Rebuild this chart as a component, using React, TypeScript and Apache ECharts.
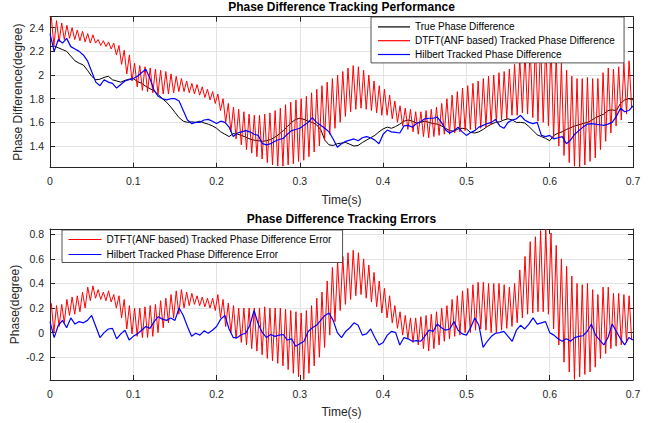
import React, { useEffect, useRef } from "react";
import * as echarts from "echarts";

// ---- sampling grids (seconds) ----
const SAMPLE_STEP = 0.005; // spacing of the smooth/noisy traces
const CYCLE = 0.00625; // one oscillation period of the DTFT trace (160 Hz)

// ---- axis ranges & labels ----
const X_MIN = 0;
const X_MAX = 0.7;
const X_INTERVAL = 0.1;
const TOP_Y_MIN = 1.217;
const TOP_Y_MAX = 2.493;
const BOT_Y_MIN = -0.385;
const BOT_Y_MAX = 0.843;

const TOP_TITLE = "Phase Difference Tracking Performance";
const BOT_TITLE = "Phase Difference Tracking Errors";
const X_NAME = "Time(s)";
const TOP_Y_NAME = "Phase Difference(degree)";
const BOT_Y_NAME = "Phase(degree)";

const NAME_TRUE = "True Phase Difference";
const NAME_DTFT = "DTFT(ANF based) Tracked Phase Difference";
const NAME_HILB = "Hilbert Tracked Phase Difference";
const NAME_DTFT_ERR = "DTFT(ANF based) Tracked Phase Difference Error";
const NAME_HILB_ERR = "Hilbert Tracked Phase Difference Error";

// ---- top panel: true phase difference, every 0.005 s ----
const trueTop = [
  2.24, 2.245, 2.23, 2.215, 2.2, 2.16, 2.12, 2.1, 2.085, 2.04,
  1.99, 1.96, 1.965, 1.98, 1.99, 1.96, 1.95, 1.94, 1.955, 1.965,
  1.97, 1.945, 1.93, 1.905, 1.885, 1.865, 1.835, 1.8, 1.77, 1.73,
  1.685, 1.64, 1.61, 1.6, 1.605, 1.6, 1.61, 1.595, 1.585, 1.57,
  1.55, 1.52, 1.5, 1.48, 1.505, 1.5, 1.49, 1.475, 1.46, 1.45,
  1.445, 1.44, 1.445, 1.455, 1.475, 1.5, 1.53, 1.565, 1.6, 1.625,
  1.635, 1.625, 1.61, 1.6, 1.58, 1.54, 1.45, 1.41, 1.405, 1.42,
  1.425, 1.43, 1.415, 1.4, 1.405, 1.43, 1.45, 1.47, 1.49, 1.52,
  1.545, 1.56, 1.55, 1.565, 1.585, 1.61, 1.62, 1.61, 1.595, 1.6,
  1.61, 1.6, 1.59, 1.585, 1.57, 1.55, 1.53, 1.525, 1.545, 1.55,
  1.545, 1.515, 1.51, 1.52, 1.54, 1.565, 1.585, 1.6, 1.605, 1.62,
  1.63, 1.62, 1.6, 1.6, 1.595, 1.565, 1.53, 1.495, 1.48, 1.465,
  1.445, 1.49, 1.51, 1.52, 1.54, 1.555, 1.57, 1.58, 1.59, 1.6,
  1.615, 1.64, 1.655, 1.67, 1.7, 1.705, 1.7, 1.76, 1.79, 1.8,
  1.79,
];

// ---- top panel: Hilbert tracked, every 0.005 s ----
const hilbertTop = [
  2.35, 2.2, 2.3, 2.27, 2.31, 2.24, 2.22, 2.2, 2.17, 2.12,
  2.03, 1.94, 1.91, 1.96, 1.94, 1.93, 1.89, 1.92, 1.95, 1.96,
  1.97, 1.99, 2.02, 2.05, 1.97, 1.87, 1.82, 1.8, 1.79, 1.8,
  1.8, 1.78, 1.7, 1.62, 1.59, 1.6, 1.6, 1.62, 1.625, 1.61,
  1.59, 1.61, 1.6, 1.56, 1.48, 1.51, 1.52, 1.53, 1.52, 1.5,
  1.49, 1.42, 1.41, 1.42, 1.44, 1.455, 1.465, 1.5, 1.53, 1.54,
  1.55, 1.575, 1.6, 1.64, 1.6, 1.575, 1.55, 1.52, 1.46, 1.39,
  1.42, 1.44, 1.45, 1.46, 1.445, 1.47, 1.48, 1.47, 1.45, 1.42,
  1.5, 1.535, 1.52, 1.515, 1.51, 1.57, 1.575, 1.56, 1.59, 1.605,
  1.63, 1.635, 1.635, 1.645, 1.6, 1.535, 1.51, 1.53, 1.56, 1.52,
  1.49, 1.515, 1.53, 1.56, 1.575, 1.59, 1.6, 1.625, 1.57, 1.55,
  1.6, 1.62, 1.63, 1.66, 1.62, 1.6, 1.59, 1.6, 1.49, 1.48,
  1.49, 1.46, 1.47, 1.48, 1.42, 1.45, 1.5, 1.53, 1.56, 1.585,
  1.59, 1.585, 1.58, 1.575, 1.585, 1.6, 1.65, 1.72, 1.69, 1.7,
  1.74,
];

// ---- top panel: DTFT tracked, one peak and one trough per cycle ----
const dtftTopPeaks = [
  2.49, 2.46, 2.44, 2.42, 2.4, 2.38, 2.37, 2.35,
  2.34, 2.3, 2.29, 2.28, 2.27, 2.25, 2.21, 2.17,
  2.1, 2.08, 2.07, 2.06, 2.05, 2.04, 2.03, 2.01,
  1.99, 1.97, 1.95, 1.93, 1.92, 1.9, 1.88, 1.86,
  1.84, 1.8, 1.76, 1.73, 1.71, 1.69, 1.67, 1.66,
  1.66, 1.67, 1.68, 1.7, 1.72, 1.75, 1.77, 1.79,
  1.8, 1.82, 1.85, 1.88, 1.91, 1.94, 1.97, 2.0,
  2.03, 2.06, 2.08, 2.07, 2.04, 2.0, 1.95, 1.91,
  1.88, 1.83, 1.78, 1.74, 1.72, 1.71, 1.69, 1.69,
  1.7, 1.71, 1.73, 1.76, 1.8, 1.83, 1.86, 1.89,
  1.91, 1.93, 1.95, 1.97, 1.99, 2.0, 2.02, 2.03,
  2.05, 2.09, 2.14, 2.19, 2.24, 2.27, 2.3, 2.29,
  2.25, 2.18, 2.1, 2.04, 1.99, 1.97, 1.97, 1.98,
  1.97, 1.97, 2.02, 2.06, 2.05, 2.07, 2.1, 2.12,
];
const dtftTopTroughs = [
  2.25, 2.28, 2.3, 2.31, 2.3, 2.29, 2.28, 2.27,
  2.27, 2.25, 2.24, 2.22, 2.17, 2.09, 2.01, 1.95,
  1.9, 1.87, 1.86, 1.85, 1.84, 1.84, 1.84, 1.85,
  1.86, 1.86, 1.85, 1.84, 1.83, 1.81, 1.79, 1.76,
  1.7, 1.6, 1.52, 1.46, 1.41, 1.37, 1.34, 1.31,
  1.29, 1.26, 1.24, 1.23, 1.23, 1.24, 1.25, 1.27,
  1.28, 1.31, 1.35, 1.4, 1.45, 1.5, 1.55, 1.6,
  1.65, 1.69, 1.71, 1.72, 1.71, 1.7, 1.68, 1.66,
  1.66, 1.63, 1.6, 1.57, 1.54, 1.52, 1.5, 1.48,
  1.47, 1.48, 1.49, 1.5, 1.5, 1.51, 1.52, 1.53,
  1.54, 1.54, 1.55, 1.56, 1.58, 1.6, 1.62, 1.63,
  1.66, 1.66, 1.68, 1.67, 1.64, 1.61, 1.6, 1.57,
  1.47, 1.4, 1.32, 1.26, 1.23, 1.22, 1.24, 1.27,
  1.3, 1.37, 1.44, 1.51, 1.57, 1.62, 1.67, 1.72,
];

// ---- bottom panel: DTFT error, one peak and one trough per cycle ----
const dtftErrPeaks = [
  0.24, 0.22, 0.23, 0.27, 0.29, 0.3, 0.33, 0.37,
  0.38, 0.35, 0.33, 0.34, 0.31, 0.3, 0.27, 0.22,
  0.2, 0.2, 0.21, 0.22, 0.23, 0.26, 0.28, 0.31,
  0.34, 0.35, 0.33, 0.32, 0.3, 0.29, 0.28, 0.28,
  0.31, 0.27, 0.24, 0.22, 0.2, 0.2, 0.2, 0.2,
  0.2, 0.21, 0.2, 0.2, 0.2, 0.19, 0.18, 0.17,
  0.16, 0.18, 0.22, 0.28, 0.33, 0.42, 0.53, 0.58,
  0.62, 0.65, 0.67, 0.65, 0.6, 0.55, 0.49, 0.42,
  0.36, 0.3, 0.22, 0.17, 0.14, 0.12, 0.12, 0.13,
  0.14, 0.15, 0.17, 0.2, 0.22, 0.27, 0.3, 0.34,
  0.36, 0.39, 0.41, 0.41, 0.4, 0.4, 0.4, 0.39,
  0.37, 0.4, 0.51, 0.62, 0.74, 0.78, 0.83, 0.84,
  0.81, 0.71, 0.6, 0.54, 0.46, 0.4, 0.39, 0.4,
  0.35, 0.31, 0.37, 0.37, 0.32, 0.32, 0.31, 0.3,
];
const dtftErrTroughs = [
  0.0, 0.05, 0.08, 0.14, 0.15, 0.17, 0.2, 0.26,
  0.28, 0.27, 0.26, 0.25, 0.2, 0.12, 0.03, -0.01,
  -0.03, -0.04, -0.04, -0.03, 0.0, 0.04, 0.08, 0.12,
  0.15, 0.2, 0.22, 0.23, 0.22, 0.21, 0.2, 0.18,
  0.12, 0.05, 0.0, -0.05, -0.08, -0.1, -0.13, -0.15,
  -0.18, -0.21, -0.23, -0.25, -0.27, -0.3, -0.33, -0.36,
  -0.38, -0.33, -0.27, -0.2, -0.12, -0.02, 0.09, 0.18,
  0.23, 0.27, 0.3, 0.31, 0.28, 0.25, 0.21, 0.16,
  0.12, 0.08, 0.035, -0.02, -0.05, -0.08, -0.1, -0.13,
  -0.15, -0.13, -0.1, -0.07, -0.05, -0.03, -0.02, 0.0,
  0.0, 0.02, 0.03, 0.02, 0.0, 0.0, 0.02, 0.035,
  0.05, 0.08, 0.12, 0.15, 0.16, 0.17, 0.17, 0.15,
  0.03, -0.1, -0.24, -0.32, -0.38, -0.36, -0.34, -0.32,
  -0.28, -0.21, -0.17, -0.13, -0.11, -0.1, -0.08, -0.06,
];

// ---- bottom panel: Hilbert error, every 0.005 s ----
const hilbertErr = [
  0.09, -0.04, 0.06, 0.1, 0.04, 0.12, 0.07, 0.09, 0.08, 0.1,
  0.14, 0.05, -0.04, 0.0, 0.03, 0.035, -0.05, -0.01, 0.02, -0.06,
  -0.03, -0.01, 0.02, 0.05, 0.035, 0.09, 0.13, 0.11, 0.1, 0.12,
  0.1, 0.2, 0.14, 0.05, -0.03, -0.005, -0.02, 0.015, -0.005, 0.02,
  0.05, 0.11, 0.14, 0.03, -0.04, -0.04, -0.015, -0.005, 0.06, 0.18,
  0.07, 0.0, -0.04, -0.015, -0.03, -0.02, -0.015, -0.06, -0.05, -0.11,
  -0.09, -0.07, 0.01, 0.04, 0.06, 0.1, 0.14, 0.16, 0.1, 0.0,
  -0.04, 0.01, 0.04, 0.08, 0.06, -0.02, -0.01, 0.03, -0.04, -0.1,
  -0.08, -0.02, 0.01, 0.0, -0.1, -0.04, -0.05, -0.07, -0.065, -0.07,
  -0.03, 0.02, 0.01, 0.07, 0.04, 0.02, 0.03, 0.09, 0.02, -0.01,
  -0.02, 0.04, 0.12, 0.06, -0.12, -0.07, -0.03, -0.005, 0.0, 0.01,
  -0.03, -0.07, 0.02, 0.06, 0.03, 0.07, 0.12, 0.07, 0.08, 0.09,
  0.0, -0.02, -0.05, -0.07, -0.05, -0.07, -0.04, -0.03, -0.025, 0.01,
  0.07, -0.02, -0.06, -0.1, -0.04, 0.07, 0.01, -0.05, -0.1, -0.04,
  -0.06,
];

// ---- helpers that pair the read values with their time stamps ----
function sampled(values: number[]): number[][] {
  return values.map((v, i) => [Number((i * SAMPLE_STEP).toFixed(4)), v]);
}
function oscillation(peaks: number[], troughs: number[]): number[][] {
  const out: number[][] = [];
  peaks.forEach((p, k) => {
    out.push([(k + 0.25) * CYCLE, p]);
    out.push([(k + 0.75) * CYCLE, troughs[k]]);
  });
  return out;
}

const FONT = '"Liberation Sans", Arial, Helvetica, sans-serif';
const AXIS_COLOR = "#262626";
const GRID_COLOR = "#e3e3e3";

function xAxes(gridIndex: number) {
  const base = {
    gridIndex,
    type: "value" as const,
    min: X_MIN,
    max: X_MAX,
    interval: X_INTERVAL,
    axisLine: { show: true, onZero: false, lineStyle: { color: AXIS_COLOR, width: 1 } },
    axisTick: { show: true, inside: true, length: 5, lineStyle: { color: AXIS_COLOR } },
  };
  return [
    {
      ...base,
      position: "bottom",
      splitLine: { show: true, lineStyle: { color: GRID_COLOR, width: 1 } },
      axisLabel: { color: AXIS_COLOR, fontSize: 10.5, fontFamily: FONT, margin: 8 },
      name: X_NAME,
      nameLocation: "middle",
      nameGap: 26,
      nameMoveOverlap: false,
      nameTextStyle: { color: AXIS_COLOR, fontSize: 12, fontFamily: FONT },
    },
    {
      ...base,
      position: "top",
      splitLine: { show: false },
      axisLabel: { show: false },
    },
  ];
}

function yAxes(gridIndex: number, min: number, max: number, name: string, nameGap: number) {
  const base = {
    gridIndex,
    type: "value" as const,
    min,
    max,
    splitNumber: 6,
    axisLine: { show: true, onZero: false, lineStyle: { color: AXIS_COLOR, width: 1 } },
    axisTick: { show: true, inside: true, length: 5, lineStyle: { color: AXIS_COLOR } },
  };
  return [
    {
      ...base,
      position: "left",
      splitLine: { show: true, lineStyle: { color: GRID_COLOR, width: 1 } },
      axisLabel: {
        color: AXIS_COLOR,
        fontSize: 10.5,
        fontFamily: FONT,
        margin: 6,
        showMinLabel: false,
        showMaxLabel: false,
      },
      name,
      nameLocation: "middle",
      nameRotate: 90,
      nameGap,
      nameMoveOverlap: false,
      nameTextStyle: { color: AXIS_COLOR, fontSize: 12, fontFamily: FONT },
    },
    {
      ...base,
      position: "right",
      splitLine: { show: false },
      axisLabel: { show: false },
    },
  ];
}

function lineSeries(name: string, data: number[][], color: string, width: number, axis: number) {
  return {
    name,
    type: "line",
    xAxisIndex: axis,
    yAxisIndex: axis,
    data,
    symbol: "none",
    showSymbol: false,
    clip: true,
    lineStyle: { color, width },
    itemStyle: { color },
    emphasis: { disabled: true },
  };
}

export default function App() {
  const ref = useRef<HTMLDivElement>(null);

  useEffect(() => {
    if (!ref.current) return;
    const chart = echarts.init(ref.current, undefined, { renderer: "svg" });
    const option = {
      animation: false,
      backgroundColor: "#ffffff",
      textStyle: { fontFamily: FONT },
      grid: [
        { left: 50, right: 27, top: 16.7, height: 151 },
        { left: 50, right: 27, top: 229, height: 151 },
      ],
      xAxis: [...xAxes(0), ...xAxes(1)],
      yAxis: [
        ...yAxes(0, TOP_Y_MIN, TOP_Y_MAX, TOP_Y_NAME, 26),
        ...yAxes(1, BOT_Y_MIN, BOT_Y_MAX, BOT_Y_NAME, 29),
      ],
      legend: [
        {
          data: [NAME_TRUE, NAME_DTFT, NAME_HILB],
          orient: "vertical",
          left: 371,
          top: 17,
          padding: [3, 9, 1.5, 7],
          itemGap: 0,
          itemWidth: 32,
          itemHeight: 1.2,
          icon: "rect",
          selectedMode: false,
          backgroundColor: "#ffffff",
          borderColor: "#262626",
          borderWidth: 0.8,
          borderRadius: 0,
          textStyle: { color: "#000", fontSize: 10, fontFamily: FONT, lineHeight: 13.8 },
        },
        {
          data: [NAME_DTFT_ERR, NAME_HILB_ERR],
          orient: "vertical",
          left: 62,
          top: 230,
          padding: [2, 11, 0.5, 6.5],
          itemGap: 0,
          itemWidth: 33,
          itemHeight: 1.2,
          icon: "rect",
          selectedMode: false,
          backgroundColor: "#ffffff",
          borderColor: "#262626",
          borderWidth: 0.8,
          borderRadius: 0,
          textStyle: { color: "#000", fontSize: 10, fontFamily: FONT, lineHeight: 15 },
        },
      ],
      graphic: [
        {
          type: "text",
          x: 341.5,
          y: 6.5,
          style: {
            text: TOP_TITLE,
            fill: "#000",
            font: `bold 12px ${FONT}`,
            align: "center",
            verticalAlign: "middle",
          },
        },
        {
          type: "text",
          x: 341.5,
          y: 219,
          style: {
            text: BOT_TITLE,
            fill: "#000",
            font: `bold 12px ${FONT}`,
            align: "center",
            verticalAlign: "middle",
          },
        },
      ],
      series: [
        lineSeries(NAME_TRUE, sampled(trueTop), "#000000", 1, 0),
        lineSeries(NAME_DTFT, oscillation(dtftTopPeaks, dtftTopTroughs), "#ff0000", 1, 0),
        lineSeries(NAME_HILB, sampled(hilbertTop), "#0000ff", 1.2, 0),
        lineSeries(NAME_DTFT_ERR, oscillation(dtftErrPeaks, dtftErrTroughs), "#ff0000", 1, 2),
        lineSeries(NAME_HILB_ERR, sampled(hilbertErr), "#0000ff", 1.2, 2),
      ],
    };
    chart.setOption(option as any);
    return () => {
      chart.dispose();
    };
  }, []);

  return (
    <div
      ref={ref}
      style={{ position: "fixed", left: 0, top: 0, width: 660, height: 423, background: "#fff" }}
    />
  );
}
